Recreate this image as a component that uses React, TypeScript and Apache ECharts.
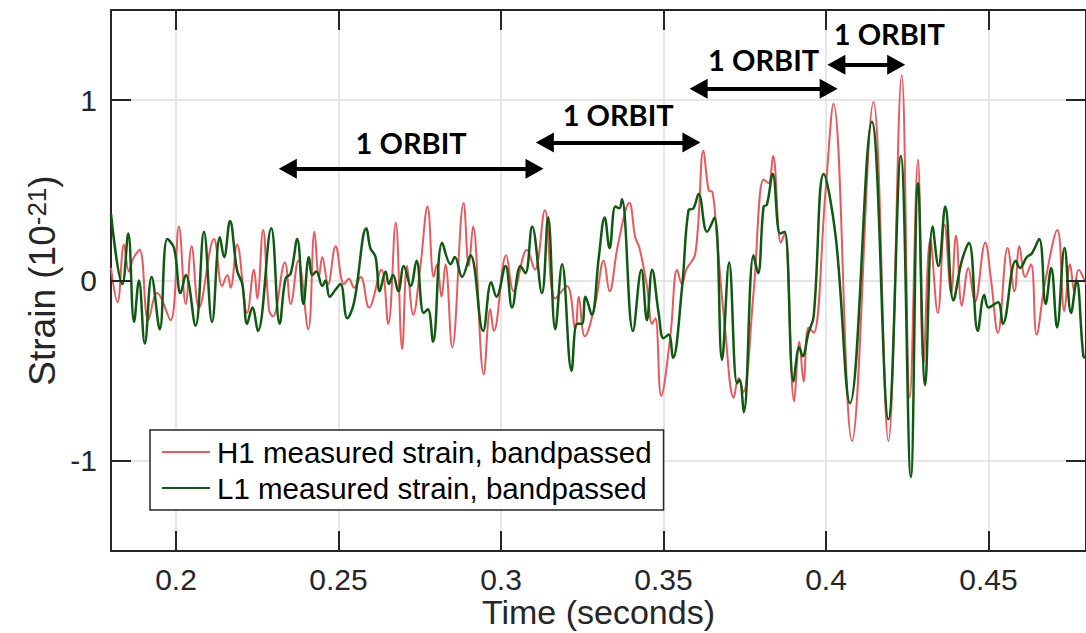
import React, { useEffect, useRef } from 'react';
import * as echarts from 'echarts';

// H1 (Hanford) bandpassed strain (time s, strain 1e-21)
const h1Time = [
  0.1800, 0.1820, 0.1840, 0.1855, 0.1868, 0.1888, 0.1915, 0.1942, 0.1983, 0.2009,
  0.2030, 0.2048, 0.2071, 0.2117, 0.2142, 0.2158, 0.2168, 0.2188, 0.2219, 0.2240,
  0.2250, 0.2268, 0.2286, 0.2298, 0.2335, 0.2353, 0.2376, 0.2407, 0.2426, 0.2440,
  0.2450, 0.2468, 0.2491, 0.2517, 0.2532, 0.2548, 0.2568, 0.2594, 0.2632, 0.2653,
  0.2676, 0.2696, 0.2711, 0.2730, 0.2752, 0.2774, 0.2793, 0.2803, 0.2817, 0.2829,
  0.2850, 0.2885, 0.2901, 0.2914, 0.2947, 0.2967, 0.2978, 0.3016, 0.3039, 0.3080,
  0.3104, 0.3135, 0.3167, 0.3203, 0.3229, 0.3239, 0.3258, 0.3290, 0.3316, 0.3334,
  0.3360, 0.3395, 0.3413, 0.3426, 0.3449, 0.3465, 0.3475, 0.3493, 0.3521, 0.3542,
  0.3557, 0.3570, 0.3598, 0.3623, 0.3639, 0.3651, 0.3664, 0.3690, 0.3716, 0.3731,
  0.3745, 0.3777, 0.3808, 0.3823, 0.3837, 0.3861, 0.3873, 0.3902, 0.3918, 0.3931,
  0.3946, 0.3962, 0.3998, 0.4023, 0.4080, 0.4146, 0.4192, 0.4233, 0.4258, 0.4283,
  0.4300, 0.4321, 0.4344, 0.4365, 0.4385, 0.4400, 0.4418, 0.4438, 0.4458, 0.4490,
  0.4508, 0.4529, 0.4559, 0.4580, 0.4595, 0.4613, 0.4631, 0.4648, 0.4674, 0.4712,
  0.4733, 0.4751, 0.4764, 0.4777, 0.4800
];
const h1Strain = [
  0.07, -0.12, 0.20, 0.05, 0.12, 0.17, -0.22, -0.07, -0.22, 0.30,
  -0.13, 0.19, -0.15, 0.23, -0.03, 0.03, -0.04, 0.20, -0.18, 0.06,
  -0.10, 0.28, -0.16, -0.20, 0.10, -0.13, 0.11, -0.27, 0.27, 0.02,
  0.13, -0.02, 0.19, -0.02, 0.01, -0.04, 0.02, -0.15, 0.06, -0.24,
  0.32, -0.38, 0.08, -0.19, 0.08, 0.41, 0.02, 0.09, -0.09, 0.09,
  -0.37, 0.43, 0.08, 0.30, -0.52, -0.16, -0.28, 0.14, -0.06, 0.17,
  0.06, 0.39, -0.10, -0.03, -0.27, -0.09, -0.31, -0.13, 0.11, -0.06,
  0.20, 0.43, 0.24, 0.18, -0.03, -0.24, -0.21, -0.64, -0.31, 0.06,
  -0.02, 0.06, 0.15, 0.72, 0.50, 0.49, 0.24, -0.28, -0.65, -0.54,
  -0.62, -0.07, 0.56, 0.54, 0.69, 0.21, 0.26, -0.67, -0.34, -0.56,
  -0.26, -0.29, 0.48, 0.98, -0.89, 0.99, -0.89, 1.14, -0.65, 0.67,
  -0.46, 0.23, -0.18, 0.31, -0.07, 0.25, -0.14, 0.07, -0.12, 0.21,
  0.00, -0.29, 0.18, -0.06, 0.19, 0.02, 0.09, -0.30, -0.01, 0.28,
  -0.17, 0.09, -0.06, 0.06, -0.02
];

// L1 (Livingston) bandpassed strain
const l1Time = [
  0.1800, 0.1835, 0.1853, 0.1871, 0.1886, 0.1904, 0.1925, 0.1950, 0.1973, 0.1994,
  0.2014, 0.2030, 0.2060, 0.2086, 0.2111, 0.2135, 0.2148, 0.2166, 0.2188, 0.2204,
  0.2219, 0.2235, 0.2252, 0.2293, 0.2319, 0.2337, 0.2353, 0.2373, 0.2392, 0.2409,
  0.2419, 0.2432, 0.2450, 0.2460, 0.2473, 0.2491, 0.2506, 0.2527, 0.2548, 0.2586,
  0.2598, 0.2614, 0.2627, 0.2645, 0.2655, 0.2668, 0.2684, 0.2701, 0.2722, 0.2740,
  0.2762, 0.2775, 0.2791, 0.2819, 0.2845, 0.2858, 0.2880, 0.2906, 0.2945, 0.2970,
  0.2986, 0.3014, 0.3034, 0.3060, 0.3075, 0.3096, 0.3126, 0.3145, 0.3167, 0.3188,
  0.3217, 0.3234, 0.3249, 0.3260, 0.3279, 0.3301, 0.3319, 0.3334, 0.3352, 0.3364,
  0.3372, 0.3406, 0.3432, 0.3449, 0.3465, 0.3485, 0.3500, 0.3516, 0.3529, 0.3557,
  0.3577, 0.3592, 0.3608, 0.3634, 0.3657, 0.3680, 0.3702, 0.3726, 0.3734, 0.3747,
  0.3777, 0.3791, 0.3808, 0.3818, 0.3836, 0.3859, 0.3873, 0.3900, 0.3918, 0.3928,
  0.3946, 0.3962, 0.3993, 0.4030, 0.4074, 0.4141, 0.4192, 0.4230, 0.4261, 0.4283,
  0.4305, 0.4328, 0.4346, 0.4367, 0.4392, 0.4418, 0.4440, 0.4467, 0.4487, 0.4500,
  0.4529, 0.4544, 0.4584, 0.4597, 0.4618, 0.4633, 0.4656, 0.4676, 0.4693, 0.4711,
  0.4734, 0.4754, 0.4771, 0.4792, 0.4800
];
const l1Strain = [
  0.37, -0.02, 0.26, -0.23, 0.00, -0.35, 0.02, -0.27, 0.23, 0.18,
  -0.07, 0.03, -0.25, 0.27, -0.23, 0.24, 0.13, 0.33, 0.055, -0.02,
  -0.24, -0.15, -0.28, 0.29, -0.24, 0.01, 0.04, 0.23, -0.13, 0.13,
  0.03, 0.05, -0.03, 0.00, -0.09, -0.05, -0.02, -0.21, -0.12, 0.29,
  0.18, 0.13, -0.06, 0.05, -0.02, 0.03, -0.06, 0.08, -0.03, 0.11,
  -0.18, -0.16, -0.34, 0.21, 0.09, 0.13, 0.02, 0.14, -0.28, -0.01,
  -0.09, 0.08, -0.15, 0.08, 0.04, 0.30, -0.07, 0.35, -0.27, 0.09,
  -0.50, -0.24, -0.24, -0.09, -0.19, 0.13, 0.35, 0.18, 0.41, 0.40,
  0.45, -0.28, 0.06, -0.22, 0.06, -0.18, -0.32, -0.30, -0.43, -0.04,
  0.39, 0.40, 0.48, 0.27, 0.35, -0.44, 0.10, -0.57, -0.55, -0.73,
  0.14, 0.04, 0.41, 0.42, 0.59, 0.26, 0.27, -0.56, -0.37, -0.42,
  -0.29, -0.20, 0.59, 0.24, -0.68, 0.88, -0.77, 0.69, -1.09, 0.54,
  -0.58, 0.30, 0.08, 0.41, -0.11, 0.11, 0.21, -0.28, -0.08, -0.15,
  -0.12, -0.24, 0.11, 0.07, 0.13, 0.15, 0.23, -0.13, 0.07, -0.26,
  0.18, -0.18, 0.00, -0.42, -0.43
];

// "1 ORBIT" annotation arrows (time span and height in data units)
const orbitStart = [0.2344, 0.3135, 0.3608, 0.4032];
const orbitEnd = [0.3103, 0.3586, 0.4008, 0.4216];
const orbitLevel = [0.62, 0.765, 1.064, 1.197];
const orbitText = '1 ORBIT';

// axis ticks (MATLAB-style, drawn inward on all four sides)
const xTicks = [0.2, 0.25, 0.3, 0.35, 0.4, 0.45];
const yTicks = [-1, 0, 1];

const seriesNames = ['H1 measured strain, bandpassed', 'L1 measured strain, bandpassed'];
const xRange = [0.18, 0.48];
const yRange = [-1.5, 1.5];

const AXIS = '#262626';
const GRIDLINE = '#dedede';
const FONT = 'Liberation Sans, Arial, Helvetica, sans-serif';
const GRID_W = 975;
const GRID_H = 541;
const TICK_LEN = 20;

export default function App() {
  const ref = useRef<HTMLDivElement>(null);

  useEffect(() => {
    if (!ref.current) return;
    const chart = echarts.init(ref.current, undefined, { renderer: 'svg' });

    const lineCommon = () => ({ show: true, onZero: false, lineStyle: { color: AXIS, width: 2 } });

    // tick length converted to data units through the grid size
    const tx = (TICK_LEN * (xRange[1] - xRange[0])) / GRID_W;
    const ty = (TICK_LEN * (yRange[1] - yRange[0])) / GRID_H;
    const tickLines: any[] = [];
    xTicks.forEach((x) => {
      tickLines.push([{ coord: [x, yRange[0]] }, { coord: [x, yRange[0] + ty] }]);
      tickLines.push([{ coord: [x, yRange[1]] }, { coord: [x, yRange[1] - ty] }]);
    });
    yTicks.forEach((y) => {
      tickLines.push([{ coord: [xRange[0], y] }, { coord: [xRange[0] + tx, y] }]);
      tickLines.push([{ coord: [xRange[1], y] }, { coord: [xRange[1] - tx, y] }]);
    });

    const labelDist = [12, 14, 15, 17];
    const labelPad = [0, 0, 0, 46];

    const orbitData = orbitStart.map((s, i) => [
      {
        coord: [s, orbitLevel[i]],
        label: {
          distance: labelDist[i],
          padding: [0, 0, 0, labelPad[i]],
        },
      },
      { coord: [orbitEnd[i], orbitLevel[i]] },
    ]);

    chart.setOption({
      animation: false,
      backgroundColor: '#ffffff',
      textStyle: { fontFamily: FONT },
      grid: {
        left: 111,
        top: 10,
        width: GRID_W,
        height: GRID_H,
        containLabel: false,
        outerBoundsMode: 'none',
      },
      legend: {
        data: seriesNames.map((n) => ({ name: n, icon: 'rect' })),
        orient: 'vertical',
        left: 150,
        top: 430,
        padding: [7, 12, 7, 12],
        itemGap: 6,
        itemWidth: 48,
        itemHeight: 2,
        backgroundColor: '#ffffff',
        borderColor: AXIS,
        borderWidth: 1.5,
        textStyle: { fontSize: 29.5, color: '#000', fontFamily: FONT, padding: [0, 0, 0, 2] },
        selectedMode: false,
      },
      xAxis: [
        {
          type: 'value',
          min: xRange[0],
          max: xRange[1],
          z: 1,
          name: 'Time (seconds)',
          nameLocation: 'middle',
          nameGap: 48,
          nameMoveOverlap: false,
          nameTextStyle: { fontSize: 34, lineHeight: 26, color: AXIS, fontFamily: FONT },
          axisLine: lineCommon(),
          axisTick: { show: false },
          axisLabel: {
            fontSize: 30,
            lineHeight: 20,
            color: AXIS,
            margin: 18,
            showMinLabel: false,
            showMaxLabel: false,
            fontFamily: FONT,
          },
          splitLine: { show: true, lineStyle: { color: GRIDLINE, width: 1.5 } },
        },
        {
          type: 'value',
          position: 'top',
          min: xRange[0],
          max: xRange[1],
          z: 1,
          axisLine: lineCommon(),
          axisTick: { show: false },
          axisLabel: { show: false },
          splitLine: { show: false },
        },
      ],
      yAxis: [
        {
          type: 'value',
          min: yRange[0],
          max: yRange[1],
          splitNumber: 3,
          z: 1,
          name: 'Strain (10{sup|-21})',
          nameLocation: 'middle',
          nameGap: 50,
          nameMoveOverlap: false,
          nameTextStyle: {
            fontSize: 37,
            color: AXIS,
            fontFamily: FONT,
            rich: {
              sup: { fontSize: 26, verticalAlign: 'top', lineHeight: 24, color: AXIS, fontFamily: FONT },
            },
          },
          axisLine: lineCommon(),
          axisTick: { show: false },
          axisLabel: {
            fontSize: 30,
            color: AXIS,
            margin: 14,
            showMinLabel: false,
            showMaxLabel: false,
            fontFamily: FONT,
          },
          splitLine: { show: true, lineStyle: { color: GRIDLINE, width: 1.5 } },
        },
        {
          type: 'value',
          position: 'right',
          min: yRange[0],
          max: yRange[1],
          splitNumber: 3,
          z: 1,
          axisLine: lineCommon(),
          axisTick: { show: false },
          axisLabel: { show: false },
          splitLine: { show: false },
        },
      ],
      series: [
        {
          name: seriesNames[0],
          type: 'line',
          data: h1Time.map((t, i) => [t, h1Strain[i]]),
          symbol: 'none',
          showSymbol: false,
          smooth: 0.4,
          silent: true,
          lineStyle: { color: '#e8585c', width: 2 },
          itemStyle: { color: '#e8585c' },
          z: 2,
          markLine: {
            silent: true,
            animation: false,
            symbol: ['none', 'none'],
            lineStyle: { color: AXIS, width: 2, type: 'solid' },
            emphasis: { disabled: true },
            label: { show: false },
            data: tickLines,
          },
        },
        {
          name: seriesNames[1],
          type: 'line',
          data: l1Time.map((t, i) => [t, l1Strain[i]]),
          symbol: 'none',
          showSymbol: false,
          smooth: 0.4,
          silent: true,
          lineStyle: { color: '#0f5a12', width: 2.5 },
          itemStyle: { color: '#0f5a12' },
          z: 3,
          markLine: {
            silent: true,
            animation: false,
            symbol: ['triangle', 'triangle'],
            symbolSize: [20, 18],
            lineStyle: { color: '#000', width: 4, type: 'solid' },
            itemStyle: { color: '#000' },
            emphasis: { disabled: true },
            label: {
              show: true,
              position: 'middle',
              formatter: orbitText,
              fontSize: 29,
              fontWeight: 'bold',
              fontFamily: 'Lato, Open Sans, sans-serif',
              color: '#000',
            },
            data: orbitData,
          },
        },
      ],
    });

    return () => chart.dispose();
  }, []);

  return (
    <div
      ref={ref}
      style={{ position: 'fixed', left: 0, top: 0, width: 1086, height: 633, background: '#fff' }}
    />
  );
}
